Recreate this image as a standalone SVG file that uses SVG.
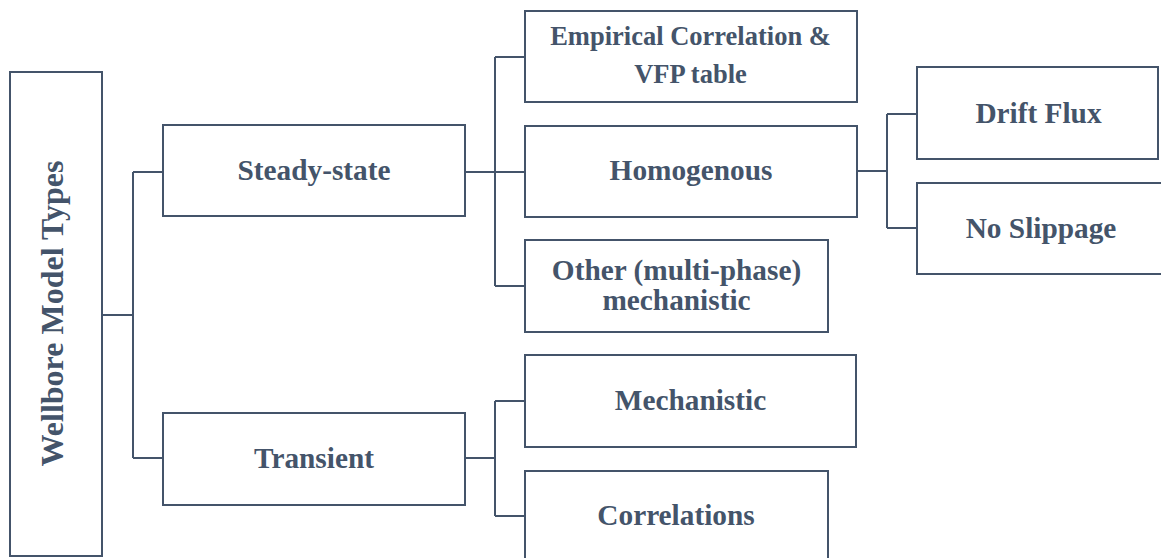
<svg xmlns="http://www.w3.org/2000/svg" width="1161" height="558" viewBox="0 0 1161 558">
  <style>
    .box { fill: #ffffff; stroke: #44546A; stroke-width: 2; }
    .wire { fill: none; stroke: #44546A; stroke-width: 2; }
    .lbl { font-family: "Liberation Serif", "Times New Roman", serif; font-weight: bold; fill: #44546A; text-anchor: middle; font-size: 29.3px; }
    .sm { font-size: 26.5px; }
  </style>
  <rect width="1161" height="558" fill="#ffffff"/>

  <!-- connectors -->
  <g id="connectors">
    <path class="wire" d="M102,315 H133 M133,172 V458 M133,172 H163 M133,458 H163"/>
    <path class="wire" d="M465,172 H525 M495,57 V286 M495,57 H525 M495,286 H525"/>
    <path class="wire" d="M857,171 H887 M887,114 V228 M887,114 H917 M887,228 H917"/>
    <path class="wire" d="M465,458 H495 M495,401 V516 M495,401 H525 M495,516 H525"/>
  </g>

  <g id="root">
    <rect class="box" x="10" y="72" width="92" height="484"/>
    <text class="lbl" style="font-size:32px" transform="translate(63,313.5) rotate(-90)">Wellbore Model Types</text>
  </g>

  <g id="steady-state">
    <rect class="box" x="163" y="125" width="302" height="91"/>
    <text class="lbl" x="314" y="180">Steady-state</text>
  </g>

  <g id="transient">
    <rect class="box" x="163" y="413" width="302" height="92"/>
    <text class="lbl" x="314" y="468">Transient</text>
  </g>

  <g id="empirical">
    <rect class="box" x="525" y="11" width="332" height="91"/>
    <text class="lbl sm" x="690.5" y="45">Empirical Correlation &amp;</text>
    <text class="lbl sm" x="690.5" y="83">VFP table</text>
  </g>

  <g id="homogenous">
    <rect class="box" x="525" y="126" width="332" height="91"/>
    <text class="lbl" x="691" y="180">Homogenous</text>
  </g>

  <g id="other-mechanistic">
    <rect class="box" x="525" y="240" width="303" height="92"/>
    <text class="lbl" x="676.5" y="280">Other (multi-phase)</text>
    <text class="lbl" x="676.5" y="310">mechanistic</text>
  </g>

  <g id="mechanistic">
    <rect class="box" x="525" y="355" width="331" height="92"/>
    <text class="lbl" x="690.5" y="410">Mechanistic</text>
  </g>

  <g id="correlations">
    <rect class="box" x="525" y="471" width="303" height="100"/>
    <text class="lbl" x="676" y="525">Correlations</text>
  </g>

  <g id="drift-flux">
    <rect class="box" x="917" y="67" width="241" height="92"/>
    <text class="lbl" x="1038.5" y="123">Drift Flux</text>
  </g>

  <g id="no-slippage">
    <rect class="box" x="917" y="183" width="260" height="91"/>
    <text class="lbl" x="1041" y="238">No Slippage</text>
  </g>
</svg>
